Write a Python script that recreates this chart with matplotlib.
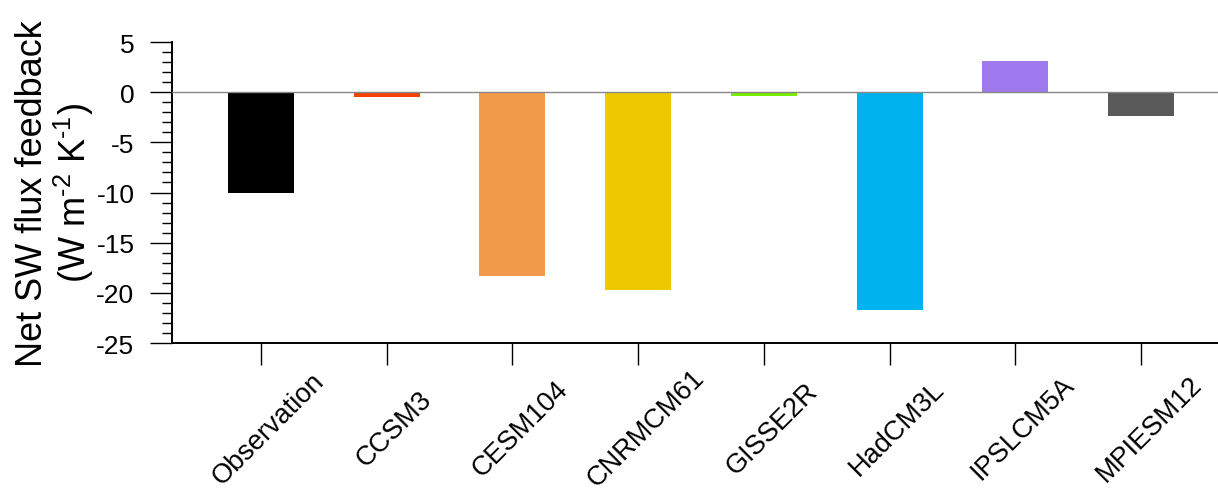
import matplotlib
matplotlib.use('Agg')
import matplotlib.pyplot as plt
import matplotlib.transforms as mtransforms
from matplotlib.ticker import MultipleLocator

# data
models = ['Observation', 'CCSM3', 'CESM104', 'CNRMCM61', 'GISSE2R',
          'HadCM3L', 'IPSLCM5A', 'MPIESM12']
feedback = [-10.0, -0.45, -18.3, -19.7, -0.37, -21.7, 3.1, -2.37]
colors = ['#000000', '#f54000', '#f09a4a', '#eec900', '#76ee00',
          '#00b2ee', '#9f79ee', '#595959']

plt.rcParams['font.family'] = ['Liberation Sans', 'DejaVu Sans']
plt.rcParams['axes.unicode_minus'] = False
plt.rcParams['mathtext.fontset'] = 'custom'
plt.rcParams['mathtext.rm'] = 'Liberation Sans'
plt.rcParams['mathtext.it'] = 'Liberation Sans'

fig = plt.figure(figsize=(12.18, 4.89), dpi=100)
ax = fig.add_axes([0.1412, 0.2965, 0.8588, 0.6155])

x = list(range(len(models)))
ax.axhline(0, color='#888888', lw=1.0, zorder=3)
ax.bar(x, feedback, width=0.525, color=colors, zorder=2)

ax.set_xlim(-0.708, 7.613)
ax.set_ylim(-25, 5)
ax.yaxis.set_major_locator(MultipleLocator(5))
ax.yaxis.set_minor_locator(MultipleLocator(1))

# x labels are centred below each tick (NCL style), so draw them as texts
ax.set_xticks(x)
ax.set_xticklabels([''] * len(models))
off = mtransforms.ScaledTranslation(8 / 100, -85 / 100, fig.dpi_scale_trans)
for i, name in enumerate(models):
    ax.text(i, 0, name, transform=ax.get_xaxis_transform() + off,
            rotation=45, rotation_mode='anchor', ha='center', va='center',
            fontsize=19.5, clip_on=False)

ax.tick_params(axis='x', direction='out', length=16, width=1.0)
ax.tick_params(axis='y', which='major', direction='out', length=16, width=1.0,
               pad=11, labelsize=19)
ax.tick_params(axis='y', which='minor', direction='out', length=7, width=1.0)

ax.spines['top'].set_visible(False)
ax.spines['right'].set_visible(False)
ax.spines['left'].set_linewidth(1.4)
ax.spines['bottom'].set_linewidth(1.4)

ax.set_ylabel('Net SW flux feedback\n(W m$^{\\text{-2}}$ K$^{\\text{-1}}$)',
              fontsize=26, linespacing=1.05, labelpad=0)

fig.savefig('out.png', dpi=100)
